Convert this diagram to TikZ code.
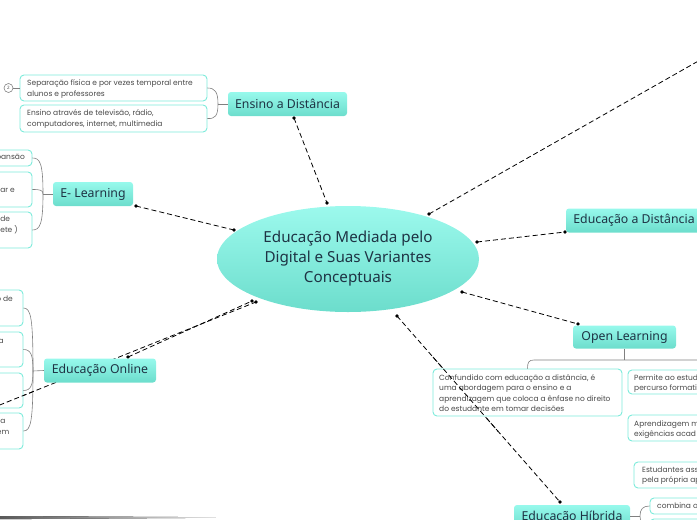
\documentclass[tikz,border=0pt]{standalone}
\usepackage{fontspec}
\setmainfont{Noto Sans}
\newfontfamily\smallfont{Poppins}
\usetikzlibrary{shapes.geometric,calc}
\definecolor{tealA}{HTML}{97F9EC}
\definecolor{tealB}{HTML}{6CDDCC}
\definecolor{sborder}{HTML}{7DEBDB}
\definecolor{dtext}{HTML}{1E3344}
\definecolor{stext}{HTML}{4A4A4A}
\definecolor{brk}{HTML}{808080}
\begin{document}
\begin{tikzpicture}[x=1pt,y=-1pt,
  topic/.style={rectangle, rounded corners=3pt, top color=tealA, bottom color=tealB, draw=none, text=dtext, font=\fontsize{12.3}{14}\selectfont, inner sep=0pt},
  sbox/.style={rectangle, rounded corners=4pt, draw=sborder, line width=0.9pt, fill=white, inner sep=0pt},
  stxt/.style={text=stext, font=\smallfont\fontsize{7.5}{10.3}\selectfont, align=left, inner sep=0pt},
  link/.style={dash pattern=on 5pt off 3pt, line width=0.8pt, black},
  brace/.style={draw=brk, line width=0.6pt},
  dotm/.style={fill=black}]
\useasboundingbox (0,0) rectangle (697,520);
\clip (0,0) rectangle (697,520);

% ---------- link end points ----------
\coordinate (l1a) at (294,118);  \coordinate (l1b) at (327,203);
\coordinate (l2a) at (136,206);  \coordinate (l2b) at (234,230);
\coordinate (l3a) at (128,357);  \coordinate (l3b) at (252,301);
\coordinate (l4a) at (-60,429);  \coordinate (l4b) at (256,302);
\coordinate (l5a) at (429,214);  \coordinate (l5b) at (760,26);
\coordinate (l6a) at (477,242);  \coordinate (l6b) at (565,232);
\coordinate (l7a) at (462,292);  \coordinate (l7b) at (578,324);
\coordinate (l8a) at (397,316);  \coordinate (l8b) at (560,502);

% ---------- central ellipse ----------
\node[ellipse, minimum width=262, minimum height=106, inner sep=0pt, top color=tealA!95!white, bottom color=tealB, text=dtext, align=center, font=\fontsize{15.2}{20}\selectfont] (ctr) at (348,259) {\raisebox{-3pt}{\parbox{178pt}{\centering Educação Mediada pelo\\Digital e Suas Variantes\\Conceptuais}}};

% ---------- dashed links ----------
\draw[link] (l1a) -- (l1b);
\draw[link] (l2a) -- (l2b);
\draw[link] (l3a) -- (l3b);
\draw[link] (l4a) -- (l4b);
\draw[link] (l5a) -- (l5b);
\draw[link] (l6a) -- (l6b);
\draw[link] (l7a) -- (l7b);
\draw[link] (l8a) -- (l8b);
\foreach \p in {l1a,l1b,l2a,l2b,l3a,l3b,l4b,l5a,l6a,l6b,l7a,l7b,l8a,l8b}
  \fill[dotm] (\p) circle (1.8);

% ---------- topics ----------
\node[topic, minimum width=119, minimum height=24] (ens) at (287.5,104) {Ensino a Distância};
\node[topic, minimum width=80, minimum height=24] (elr) at (93,194) {E- Learning};
\node[topic, minimum width=112, minimum height=24] (onl) at (100,370.5) {Educação Online};
\node[topic, minimum width=136, minimum height=24] (edd) at (634,220.5) {Educação a Distância};
\node[topic, minimum width=103, minimum height=23] (opl) at (624.5,337) {Open Learning};
\node[topic, minimum width=116, minimum height=24] (hib) at (572,517) {Educação Híbrida};

% ---------- Ensino a Distancia children ----------
\node[sbox, minimum width=187, minimum height=26] (ens1) at (113.5,88) {};
\node[sbox, minimum width=187, minimum height=27] (ens2) at (113.5,118.5) {};
\node[stxt, anchor=west] (ens1t) at (27,89) {Separação física e por vezes temporal entre\\alunos e professores};
\node[stxt, anchor=west] (ens2t) at (27,119) {Ensino através de televisão, rádio,\\computadores, internet, multimedia};
\node[circle, draw=brk, line width=0.6pt, minimum size=9, inner sep=0pt, font=\fontsize{4.5}{5}\selectfont, text=stext] (cnt) at (8.5,88) {2};
\draw[brace] (cnt) -- (ens1.west);
\coordinate (jE) at (218,104);
\draw[brace] (ens.west) -- (jE);
\draw[brace] (jE) .. controls (218,92) and (215,88) .. (ens1.east);
\draw[brace] (jE) .. controls (218,116) and (215,119) .. (ens2.east);

% ---------- E-Learning children ----------
\node[sbox, minimum width=92, minimum height=16] (el1) at (-14,158) {};
\node[sbox, minimum width=92, minimum height=35] (el2) at (-14,189.5) {};
\node[sbox, minimum width=92, minimum height=36] (el3) at (-14,230) {};
\node[stxt, anchor=east] (el1t) at (25,158) {pansão};
\node[stxt, anchor=east] (el2t) at (15,189.5) {iar e};
\node[stxt, anchor=east] (el3t) at (18,225) {\hfill de\\ete )};
\coordinate (jL) at (43,194);
\draw[brace] (elr.west) -- (jL);
\draw[brace] (jL) .. controls (43,163) and (40,158) .. (el1.east);
\draw[brace] (jL) .. controls (43,190) and (40,189.5) .. (el2.east);
\draw[brace] (jL) .. controls (43,224) and (40,230) .. (el3.east);

% ---------- Educacao Online children ----------
\node[sbox, minimum width=103, minimum height=36] (on1) at (-28.5,308) {};
\node[sbox, minimum width=103, minimum height=35] (on2) at (-28.5,349.5) {};
\node[sbox, minimum width=103, minimum height=35] (on3) at (-28.5,390.5) {};
\node[sbox, minimum width=103, minimum height=36] (on4) at (-28.5,431) {};
\node[stxt, anchor=east] (on1t) at (13,299) {o de};
\node[stxt, anchor=east] (on2t) at (4,341) {a};
\node[stxt, anchor=east] (on4t) at (9.5,427) {za\\em};
\coordinate (jO) at (33,371);
\draw[brace] (onl.west) -- (jO);
\draw[brace] (jO) .. controls (33,318) and (31,308) .. (on1.east);
\draw[brace] (jO) .. controls (33,355) and (31,349.5) .. (on2.east);
\draw[brace] (jO) .. controls (33,385) and (31,390.5) .. (on3.east);
\draw[brace] (jO) .. controls (33,421) and (31,431) .. (on4.east);
% the long link passes over the online children, under the topic
\draw[link] (l4a) -- ($(l4a)!0.3!(l4b)$);

% ---------- Open Learning children ----------
\node[sbox, minimum width=189, minimum height=47] (ol1) at (527.5,392.5) {};
\node[stxt, anchor=west] (ol1t) at (439,393) {Confundido com educação a distância, é\\uma abordagem para o ensino e a\\aprendizagem que coloca a ênfase no direito\\do estudante em tomar decisões};
\node[sbox, minimum width=132, minimum height=24] (ol2) at (694,382) {};
\node[stxt, anchor=west] (ol2t) at (634,383.5) {Permite ao estud\\percurso formati};
\node[sbox, minimum width=132, minimum height=26] (ol3) at (694,428) {};
\node[stxt, anchor=west] (ol3t) at (634,429.5) {Aprendizagem m\\exigências acad};
\node[sbox, minimum width=126, minimum height=26] (ol4) at (697,475) {};
\node[stxt, anchor=west] (ol4t) at (642,475.5) {Estudantes ass\\pela própria ap};
\coordinate (jP) at (624.5,360);
\coordinate (jPr) at (700,360);
\draw[brace] (opl.south) -- (jP);
\draw[brace] (jPr) -- (534,360) .. controls (529,360) and (527.5,362) .. (ol1.north);

% the Educacao Hibrida link crosses ol1 above it
\draw[link] ($(l8a)!0.22!(l8b)$) -- ($(l8a)!0.62!(l8b)$);

% ---------- Educacao Hibrida children ----------
\node[sbox, minimum width=110, minimum height=16] (hb1) at (705,506) {};
\node[stxt, anchor=west] (hb1t) at (657,506) {combina o};
\node[sbox, minimum width=110, minimum height=21] (hb2) at (705,529.5) {};
\coordinate (jH) at (640,516);
\draw[brace] (hib.east |- jH) -- (jH);
\draw[brace] (jH) .. controls (640,509) and (643,506) .. (hb1.west);
\draw[brace] (jH) .. controls (640,523) and (643,527) .. (hb2.west);

% ---------- bottom-left grey bar ----------
\fill[left color=black!65, right color=black!12] (0,516) -- (215,517.2) -- (215,517.8) -- (0,519.2) -- cycle;
\end{tikzpicture}
\end{document}
